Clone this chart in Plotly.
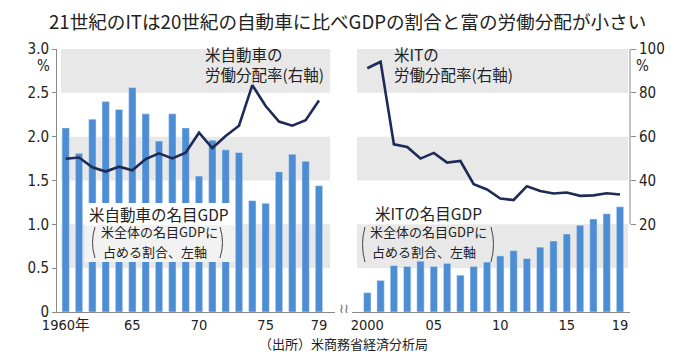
import plotly.graph_objects as go

W, H = 685, 361
OFF = 8  # page body margin in the browser
FW, FH = W - 2 * OFF, H - 2 * OFF
FONT = "Noto Sans CJK JP"
NUMFONT = "Liberation Sans Narrow, DejaVu Sans Condensed, Noto Sans CJK JP"

years_auto = list(range(1960, 1980))
gdp_auto = [2.10, 1.81, 2.20, 2.40, 2.31, 2.56, 2.26, 1.95, 2.26, 2.10,
            1.55, 1.96, 1.85, 1.82, 1.27, 1.24, 1.60, 1.80, 1.72, 1.44]
labor_auto = [49.9, 50.5, 46.0, 44.1, 46.3, 44.7, 49.8, 52.4, 50.1, 52.7,
              61.8, 54.8, 60.3, 65.0, 83.5, 74.0, 66.9, 65.0, 67.5, 76.5]

years_it = list(range(2000, 2020))
gdp_it = [0.22, 0.36, 0.53, 0.52, 0.58, 0.52, 0.555, 0.42, 0.52, 0.57,
          0.64, 0.70, 0.61, 0.74, 0.81, 0.89, 0.99, 1.06, 1.12, 1.20]
labor_it = [91.2, 94.2, 56.5, 55.3, 50.0, 52.6, 48.2, 48.9, 38.3, 35.9,
            31.8, 31.1, 37.4, 35.2, 34.1, 34.5, 33.0, 33.2, 34.2, 33.6]

left_ticks = [0, 0.5, 1.0, 1.5, 2.0, 2.5, 3.0]
left_ticktext = ["0", "0.5", "1.0", "1.5", "2.0", "2.5", "3.0"]
right_ticks = [20, 40, 60, 80, 100]
x1_ticks = [1960, 1965, 1970, 1975, 1979]
x1_text = ["1960年", "65", "70", "75", "79"]
x2_ticks = [2000, 2005, 2010, 2015, 2019]
x2_text = ["2000", "05", "10", "15", "19"]

BAR = "#4d8dd3"
LINE = "#1f2b57"
BAND = "#e8e8e8"
TXT = "#222222"
AXIS = "#8a8a8a"


def px(x, y):
    """screen pixel -> paper fraction"""
    return (x - OFF) / FW, 1 - (y - OFF) / FH


fig = go.Figure()
fig.add_trace(go.Bar(x=years_auto, y=gdp_auto, xaxis="x", yaxis="y",
                     marker_color=BAR, width=0.55, showlegend=False))
fig.add_trace(go.Bar(x=years_it, y=gdp_it, xaxis="x2", yaxis="y",
                     marker_color=BAR, width=0.55, showlegend=False))
fig.add_trace(go.Scatter(x=years_auto, y=labor_auto, xaxis="x", yaxis="y2",
                         mode="lines", line=dict(color=LINE, width=2.6),
                         showlegend=False))
fig.add_trace(go.Scatter(x=years_it, y=labor_it, xaxis="x2", yaxis="y2",
                         mode="lines", line=dict(color=LINE, width=2.6),
                         showlegend=False))

x1_start = 1960 - 8.7 / 13.33
x1_end = x1_start + 278 / 13.33
x2_start = 2000 - 15.3 / 13.3
x2_end = x2_start + 278 / 13.3

tickfont = dict(family=NUMFONT, size=15, color=TXT)
xtickfont = dict(family=NUMFONT, size=14.5, color=TXT)

xd1 = [px(57, 0)[0], px(335, 0)[0]]
xd2 = [px(352, 0)[0], px(630, 0)[0]]
yd = [px(0, 312)[1], px(0, 49)[1]]

fig.update_layout(
    width=FW, height=FH,
    margin=dict(l=0, r=0, t=0, b=0, autoexpand=False),
    plot_bgcolor="white", paper_bgcolor="white",
    barmode="overlay",
    font=dict(family=FONT, color=TXT),
    xaxis=dict(domain=xd1, range=[x1_start, x1_end],
               tickvals=x1_ticks, ticktext=x1_text, tickfont=xtickfont,
               showgrid=False, zeroline=False, showline=True, automargin=False,
               linecolor=AXIS, linewidth=1, ticks="", anchor="y"),
    xaxis2=dict(domain=xd2, range=[x2_start, x2_end],
                tickvals=x2_ticks, ticktext=x2_text, tickfont=xtickfont,
                showgrid=False, zeroline=False, showline=True, automargin=False,
                linecolor=AXIS, linewidth=1, ticks="", anchor="y"),
    yaxis=dict(domain=yd, range=[0, 3.0],
               tickvals=left_ticks, ticktext=left_ticktext, tickfont=tickfont,
               showgrid=False, zeroline=False, showline=True, automargin=False,
               linecolor=AXIS, linewidth=1, ticks="outside",
               ticklen=4, tickcolor=AXIS, anchor="x"),
    yaxis2=dict(overlaying="y", side="right", anchor="x2", range=[-20, 100],
                tickvals=right_ticks, tickfont=tickfont, automargin=False,
                showgrid=False, zeroline=False, showline=False,
                ticks="outside", ticklen=5, tickcolor=AXIS),
)

shapes = []
# grey bands
for lo, hi in [(2.5, 3.0), (1.5, 2.0), (0.5, 1.0)]:
    shapes.append(dict(type="rect", xref="x", yref="y",
                       x0=x1_start + 4 / 13.33, x1=x1_start + 273 / 13.33,
                       y0=lo, y1=hi, fillcolor=BAND, line=dict(width=0), layer="below"))
    shapes.append(dict(type="rect", xref="x2", yref="y",
                       x0=x2_start + 5 / 13.3, x1=x2_start + 276 / 13.3,
                       y0=lo, y1=hi, fillcolor=BAND, line=dict(width=0), layer="below"))

# white box behind the auto GDP label (paper coordinates)
bx0, by0 = px(85, 262)
bx1, by1 = px(235, 203)
shapes.append(dict(type="rect", xref="paper", yref="paper", x0=bx0, x1=bx1,
                   y0=by0, y1=by1, fillcolor="white", line=dict(width=0), layer="above"))
gx0, gy0 = px(85, 262)
gx1, gy1 = px(235, 225)
shapes.append(dict(type="rect", xref="paper", yref="paper", x0=gx0, x1=gx1,
                   y0=gy0, y1=gy1, fillcolor="#f2f2f2", line=dict(width=0), layer="above"))

# right axis line (20 to 100 only)
shapes.append(dict(type="line", xref="x2 domain", yref="y2", x0=1, x1=1,
                   y0=20, y1=100, line=dict(color=AXIS, width=1)))


def paren(xc, ytop, ybot, left=True):
    bulge = -5 if left else 5
    x0, y0 = px(xc, ytop)
    xm, ym = px(xc + bulge, (ytop + ybot) / 2)
    x1, y1 = px(xc, ybot)
    return dict(type="path", xref="paper", yref="paper", layer="above",
                path=f"M {x0},{y0} Q {xm},{ym} {x1},{y1}",
                line=dict(color="#444444", width=1))


shapes.append(paren(95, 227, 258, True))
shapes.append(paren(220, 227, 258, False))
shapes.append(paren(365, 227, 262, True))
shapes.append(paren(491, 227, 262, False))
fig.update_layout(shapes=shapes)

ann = []


def add_text(text, x, y, size, xanchor="left", yanchor="middle", align="left",
             color=TXT, family=FONT):
    ax, ay = px(x, y)
    ann.append(dict(text=text, x=ax, y=ay, xref="paper", yref="paper",
                    xanchor=xanchor, yanchor=yanchor, align=align,
                    showarrow=False, font=dict(family=family, size=size, color=color)))


add_text("21世紀のITは20世紀の自動車に比べGDPの割合と富の労働分配が小さい",
         347, 21, 18.6, xanchor="center")
add_text("%", 43, 66, 15, xanchor="center", family=NUMFONT)
add_text("%", 642, 66, 15, xanchor="center", family=NUMFONT)
add_text("米自動車の<br>労働分配率(右軸)", 203, 64, 15.5)
add_text("米ITの<br>労働分配率(右軸)", 392, 64, 15.5)
add_text("米自動車の名目GDP", 159, 214, 15.5, xanchor="center")
add_text("米全体の名目GDPに", 159, 232, 13, xanchor="center")
add_text("占める割合、左軸", 155, 251, 13, xanchor="center")
add_text("米ITの名目GDP", 428, 213, 15.5, xanchor="center")
add_text("米全体の名目GDPに", 428, 232, 13, xanchor="center")
add_text("占める割合、左軸", 424, 251, 13, xanchor="center")
add_text("≀≀", 344, 307, 13, xanchor="center", color="#666666")
add_text("（出所）米商務省経済分析局", 343, 343, 13, xanchor="center")
fig.update_layout(annotations=ann)

fig.write_html("out.html")
